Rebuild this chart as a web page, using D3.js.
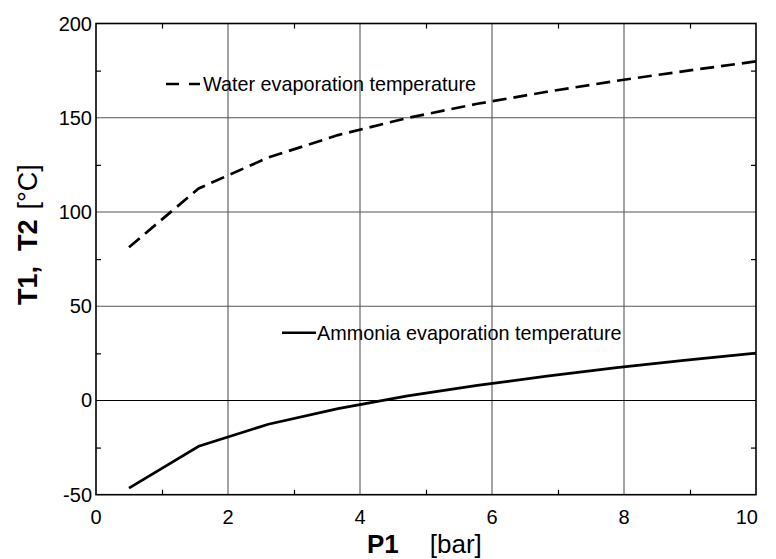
<!DOCTYPE html>
<html>
<head>
<meta charset="utf-8">
<script src="https://cdn.jsdelivr.net/npm/d3@7/dist/d3.min.js"></script>
<style>
    body { margin: 0; background: #fff; }
    svg { display: block; font-family: Arial, "Liberation Sans", sans-serif; }
</style>
</head>
<body>
<svg id="chart" width="776" height="559"></svg>
<script>
'use strict';

/* saturation temperature of water and ammonia vs pressure */

//pressure points [bar]
var pressure = [0.5, 1.556, 2.611, 3.667, 4.722, 5.778, 6.833, 7.889, 8.944, 10];
//evaporation temperatures [°C]
var waterTemp = [81.3, 112.5, 128.9, 140.8, 149.9, 157.4, 163.8, 169.6, 174.9, 179.9];
var ammoniaTemp = [-46.5, -24.3, -12.6, -4.3, 2.4, 8.0, 12.9, 17.4, 21.4, 25.1];

//ticks
var xTicks = [0, 2, 4, 6, 8, 10];
var xMinor = [1, 3, 5, 7, 9];
var yTicks = [-50, 0, 50, 100, 150, 200];
var yMinor = [-25, 25, 75, 125, 175];

var seriesNames = ['Water evaporation temperature', 'Ammonia evaporation temperature'];

(function () {
    var svg = d3.select('#chart');
    //plot box (window.top is reserved, so keep these local)
    var box = { left: 96, right: 756, top: 23.5, bottom: 494.7 };

    var x = d3.scaleLinear().domain([0, 10]).range([box.left, box.right]);
    var y = d3.scaleLinear().domain([-50, 200]).range([box.bottom, box.top]);

    //grid lines
    var grid = svg.append('g');
    grid.selectAll('line.vx')
        .data(xTicks.slice(1, -1))
        .enter().append('line')
        .attr('x1', function (d) { return x(d); })
        .attr('x2', function (d) { return x(d); })
        .attr('y1', box.top).attr('y2', box.bottom)
        .style('stroke', '#707070').style('stroke-width', 1.3);
    grid.selectAll('line.hy')
        .data(yTicks.slice(1, -1))
        .enter().append('line')
        .attr('y1', function (d) { return y(d); })
        .attr('y2', function (d) { return y(d); })
        .attr('x1', box.left).attr('x2', box.right)
        .style('stroke', function (d) { return d === 0 ? '#000' : '#555'; })
        .style('stroke-width', 1.1);

    //axes with inward minor ticks
    var tickSize = 5;
    svg.append('g').attr('transform', 'translate(0,' + box.bottom + ')')
        .call(d3.axisTop(x).tickValues(xMinor).tickSize(tickSize).tickFormat(''));
    svg.append('g').attr('transform', 'translate(0,' + box.top + ')')
        .call(d3.axisBottom(x).tickValues(xMinor).tickSize(tickSize).tickFormat(''));
    svg.append('g').attr('transform', 'translate(' + box.left + ',0)')
        .call(d3.axisRight(y).tickValues(yMinor).tickSize(tickSize).tickFormat(''));
    svg.append('g').attr('transform', 'translate(' + box.right + ',0)')
        .call(d3.axisLeft(y).tickValues(yMinor).tickSize(tickSize).tickFormat(''));
    svg.selectAll('.domain').remove();
    svg.selectAll('.tick line').style('stroke', '#000').style('stroke-width', 1.2);

    //frame
    svg.append('rect')
        .attr('x', box.left).attr('y', box.top)
        .attr('width', box.right - box.left).attr('height', box.bottom - box.top)
        .style('fill', 'none').style('stroke', '#000').style('stroke-width', 1.6);

    //tick labels
    svg.selectAll('text.xt')
        .data(xTicks)
        .enter().append('text')
        .attr('x', function (d, i) { return i === xTicks.length - 1 ? x(d) + 2 : x(d); })
        .attr('y', box.bottom + 29)
        .attr('text-anchor', function (d, i) { return i === xTicks.length - 1 ? 'end' : 'middle'; })
        .style('font-size', '20px')
        .text(function (d) { return d; });
    svg.selectAll('text.yt')
        .data(yTicks)
        .enter().append('text')
        .attr('x', box.left - 4)
        .attr('y', function (d) { return y(d); })
        .attr('dy', '0.35em')
        .attr('text-anchor', 'end')
        .style('font-size', '20px')
        .text(function (d) { return d; });

    //curves
    var line = d3.line()
        .x(function (d) { return x(d[0]); })
        .y(function (d) { return y(d[1]); });
    svg.append('path')
        .datum(d3.zip(pressure, waterTemp))
        .attr('d', line)
        .style('fill', 'none').style('stroke', '#000').style('stroke-width', 2.7)
        .style('stroke-dasharray', '14,7');
    svg.append('path')
        .datum(d3.zip(pressure, ammoniaTemp))
        .attr('d', line)
        .style('fill', 'none').style('stroke', '#000').style('stroke-width', 2.7);

    //in-plot legends
    svg.append('line')
        .attr('x1', 166).attr('x2', 200).attr('y1', 84).attr('y2', 84)
        .style('stroke', '#000').style('stroke-width', 2.4).style('stroke-dasharray', '13,10');
    svg.append('text')
        .attr('x', 203).attr('y', 91)
        .style('font-size', '19.8px')
        .text(seriesNames[0]);
    svg.append('line')
        .attr('x1', 282).attr('x2', 316).attr('y1', 332.7).attr('y2', 332.7)
        .style('stroke', '#000').style('stroke-width', 2.4);
    svg.append('text')
        .attr('x', 317).attr('y', 339.5)
        .style('font-size', '19.8px')
        .text(seriesNames[1]);

    //axis titles
    var xTitle = svg.append('text')
        .attr('x', 367).attr('y', 553)
        .style('font-size', '26px');
    xTitle.append('tspan').style('font-weight', 'bold').text('P1');
    xTitle.append('tspan').attr('dx', 31).text('[bar]');

    var yTitle = svg.append('text')
        .attr('transform', 'translate(37,305) rotate(-90)')
        .style('font-size', '27px');
    yTitle.append('tspan').style('font-weight', 'bold').text('T1,\u00a0\u00a0T2');
    yTitle.append('tspan').attr('dx', 10).text('[\u00b0C]');
})();
</script>
</body>
</html>
